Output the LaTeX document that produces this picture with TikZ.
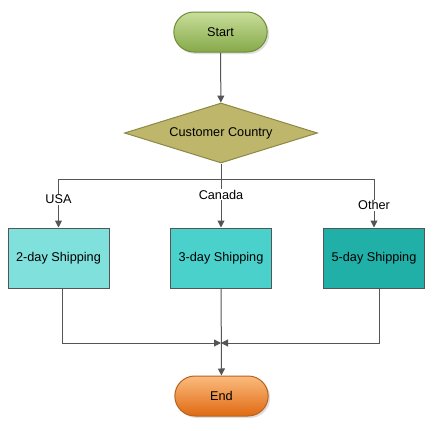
\documentclass[tikz,border=0pt]{standalone}
\usepackage{fontspec}
\setmainfont{Liberation Sans}
\usetikzlibrary{shapes.geometric, shapes.misc, arrows.meta, shadows}

\definecolor{startTop}{HTML}{C8DE9A}
\definecolor{startBot}{HTML}{86A94A}
\definecolor{startLine}{HTML}{6E8C3A}
\definecolor{diaFill}{HTML}{BDB66B}
\definecolor{diaLine}{HTML}{8C8846}
\definecolor{endTop}{HTML}{FBBB7E}
\definecolor{endBot}{HTML}{E06A12}
\definecolor{endLine}{HTML}{B5621F}
\definecolor{shipA}{HTML}{7FE0DC}
\definecolor{shipB}{HTML}{4AD1CC}
\definecolor{shipC}{HTML}{20B0A8}
\definecolor{wireGray}{HTML}{555555}

\begin{document}
\begin{tikzpicture}[x=1pt, y=-1pt, font=\fontsize{12.7}{15}\selectfont,
	wire/.style={draw=wireGray, line width=1pt},
	arr/.style={wire, -{Triangle[length=7pt, width=7pt]}},
	term/.style={rounded rectangle, draw, line width=1pt, minimum width=100pt, minimum height=40pt,
		drop shadow={shadow xshift=2pt, shadow yshift=-2pt, opacity=0.25}},
	shipbox/.style={rectangle, draw=wireGray, line width=1pt, minimum width=101pt, minimum height=60pt},
	lbl/.style={fill=white, inner sep=1pt}]
	
	\useasboundingbox [fill=white] (0, 0) rectangle (440, 431);
	
	\node (start) [term, draw=startLine, top color=startTop, bottom color=startBot] at (220.5, 32) {Start};
	\node (country) [diamond, aspect=3.2, draw=diaLine, fill=diaFill, line width=1pt, minimum width=193pt, minimum height=60pt, inner sep=0pt] at (221, 133) {Customer Country};
	\node (end) [term, draw=endLine, top color=endTop, bottom color=endBot] at (221.5, 396) {End};
	
	\coordinate (split) at (221, 179);
	\coordinate (merge) at (221, 343);
	
	\draw [arr] (start) -- (country);
	\draw [wire] (country.south) -- (split);
	
	\foreach \n/\x/\c/\l/\p in {2/58.5/shipA/USA/0.71, 3/221/shipB/Canada/0.66, 5/374/shipC/Other/0.77} {
		\node (ship\n) [shipbox, fill=\c] at (\x, 258) {\n-day Shipping};
		\draw [arr] (split) -| node [lbl, pos=\p] {\l} (ship\n.north);
	}
	
	\draw [arr] ([xshift=4pt]ship2.south) |- (merge);
	\draw [arr] ([xshift=5pt]ship5.south) |- (merge);
	\draw [arr] (ship3) -- (end);

\end{tikzpicture}
\end{document}
